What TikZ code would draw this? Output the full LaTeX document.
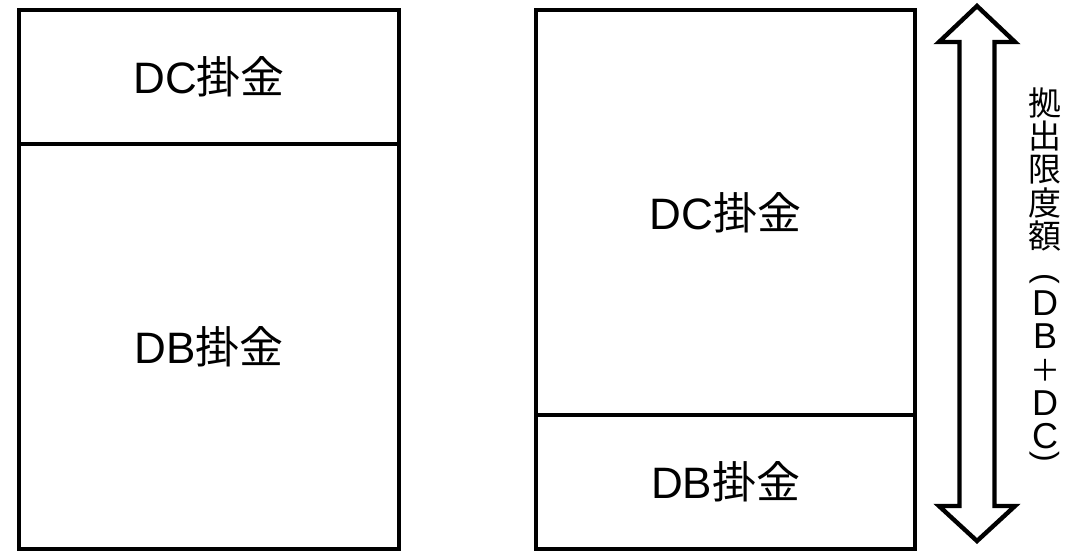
\documentclass[tikz,border=0pt]{standalone}
\usepackage{fontspec}
\setmainfont{Noto Sans CJK JP}
\newfontfamily\latfont{Liberation Sans}
\begin{document}
\begin{tikzpicture}[x=1pt,y=-1pt,
  box/.style={draw=black, line width=4.4pt, inner sep=0pt, anchor=north west,
    font=\fontsize{44}{48}\selectfont},
  bigarrow/.style={draw=black, line width=4.4pt, line join=miter, fill=white},
  vchar/.style={inner sep=0pt, font=\fontsize{33}{33}\selectfont},
  vplus/.style={inner sep=0pt, font=\fontsize{30}{30}\selectfont},
  vlat/.style={inner sep=0pt, font=\latfont\fontsize{36}{36}\selectfont},
  vparen/.style={inner sep=0pt, font=\latfont\fontsize{32}{32}\selectfont}]
\useasboundingbox (0,0) rectangle (1072,550);
% left column
\node[box, minimum width=380pt, minimum height=134pt] (ldc) at (17,8) {{\latfont DC}掛金};
\node[box, minimum width=380pt, minimum height=405pt] (ldb) at (17,142) {{\latfont DB}掛金};
% right column
\node[box, minimum width=379pt, minimum height=405pt] (rdc) at (534,8) {{\latfont DC}掛金};
\node[box, minimum width=379pt, minimum height=134pt] (rdb) at (534,413) {{\latfont DB}掛金};
% double arrow
\draw[bigarrow] (977,6) -- (1015,42) -- (994.5,42) -- (994.5,506) -- (1015,506)
  -- (977,541) -- (939,506) -- (959.5,506) -- (959.5,42) -- (939,42) -- cycle;
% vertical label
\node[vchar] (v0) at (1045,103.0) {拠};
\node[vchar] (v1) at (1045,136.3) {出};
\node[vchar] (v2) at (1045,169.6) {限};
\node[vchar] (v3) at (1045,202.9) {度};
\node[vchar] (v4) at (1045,236.2) {額};
\node[vparen] (v5) at (1045,280) {\rotatebox[origin=c]{-90}{(}};
\node[vlat] (v6) at (1045,303.5) {D};
\node[vlat] (v7) at (1045,336.3) {B};
\node[vplus] (v8) at (1045,370.2) {＋};
\node[vlat] (v9) at (1045,403.2) {D};
\node[vlat] (v10) at (1045,436.5) {C};
\node[vparen] (v11) at (1045,458) {\rotatebox[origin=c]{-90}{)}};
\end{tikzpicture}
\end{document}
